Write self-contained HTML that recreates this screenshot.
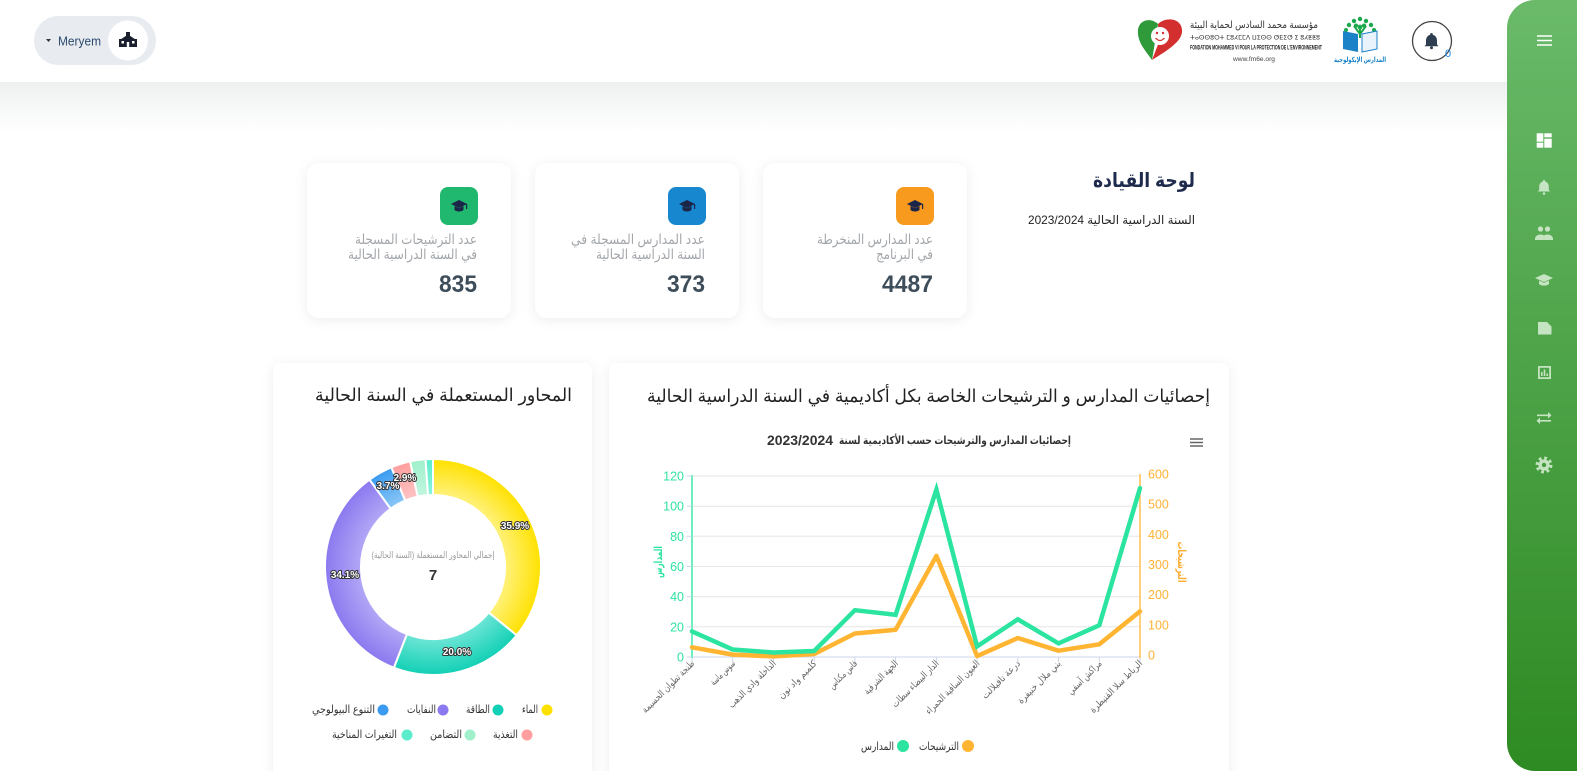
<!DOCTYPE html>
<html><head><meta charset="utf-8"><style>
html,body{margin:0;padding:0;background:#fff;width:1577px;height:771px;overflow:hidden}
svg{display:block}
</style></head><body>
<svg width="1577" height="771" viewBox="0 0 1577 771" xmlns="http://www.w3.org/2000/svg" font-family="'Liberation Sans','DejaVu Sans',sans-serif">
<defs>
<linearGradient id="band" x1="0" y1="0" x2="0" y2="1"><stop offset="0" stop-color="#eef0f0"/><stop offset="1" stop-color="#ffffff"/></linearGradient>
<linearGradient id="side" x1="0" y1="0" x2="0" y2="1"><stop offset="0" stop-color="#6aba6a"/><stop offset="1" stop-color="#2e8a22"/></linearGradient>
<filter id="sh" x="-10%" y="-10%" width="120%" height="130%"><feDropShadow dx="0" dy="2" stdDeviation="6" flood-color="#000" flood-opacity="0.07"/></filter>
<radialGradient id="gY" gradientUnits="userSpaceOnUse" cx="433" cy="567" r="108"><stop offset="0.66" stop-color="#fff27e"/><stop offset="1" stop-color="#ffe100"/></radialGradient>
<radialGradient id="gT" gradientUnits="userSpaceOnUse" cx="433" cy="567" r="108"><stop offset="0.66" stop-color="#6ee6d6"/><stop offset="1" stop-color="#12d0b5"/></radialGradient>
<radialGradient id="gP" gradientUnits="userSpaceOnUse" cx="433" cy="567" r="108"><stop offset="0.66" stop-color="#b2a8f6"/><stop offset="1" stop-color="#8a79ef"/></radialGradient>
<radialGradient id="gB" gradientUnits="userSpaceOnUse" cx="433" cy="567" r="108"><stop offset="0.66" stop-color="#8cc6f7"/><stop offset="1" stop-color="#3a9bf0"/></radialGradient>
<radialGradient id="gK" gradientUnits="userSpaceOnUse" cx="433" cy="567" r="108"><stop offset="0.66" stop-color="#ffc4c4"/><stop offset="1" stop-color="#ff9e9e"/></radialGradient>
<radialGradient id="gL" gradientUnits="userSpaceOnUse" cx="433" cy="567" r="108"><stop offset="0.66" stop-color="#c0f7df"/><stop offset="1" stop-color="#9ff0cb"/></radialGradient>
<radialGradient id="gM" gradientUnits="userSpaceOnUse" cx="433" cy="567" r="108"><stop offset="0.66" stop-color="#8ef3dc"/><stop offset="1" stop-color="#5beccb"/></radialGradient>
</defs>

<!-- header band -->
<rect x="0" y="82" width="1577" height="50" fill="url(#band)"/>

<!-- user pill -->
<rect x="34" y="16" width="122" height="49" rx="24.5" fill="#e8ecf0"/>
<path d="M46,39 L51,39 L48.5,42 Z" fill="#333"/>
<text x="58" y="45.5" font-size="13" fill="#2c4a6e" textLength="43" lengthAdjust="spacingAndGlyphs">Meryem</text>
<circle cx="128" cy="40.5" r="20" fill="#fff"/>
<g fill="#1a1f2e">
<rect x="126" y="32" width="4" height="4"/>
<path d="M120.5,39.5 L128,34.5 L135.5,39.5 Z"/>
<rect x="119" y="39" width="18" height="8"/>
</g>
<g fill="#fff"><rect x="121.5" y="41" width="2.5" height="2.5"/><rect x="132" y="41" width="2.5" height="2.5"/><rect x="126.8" y="42" width="2.4" height="5"/></g>

<!-- FM6E logo -->
<path d="M1152,60 C1145,50 1137,42 1138,30 C1139,20 1150,17 1158,24 L1155,42 Z" fill="#2e9a3a"/>
<path d="M1158,24 C1166,16 1183,18 1182,32 C1181,42 1168,50 1152,60 L1159,42 Z" fill="#d32f2f"/>
<circle cx="1160" cy="36" r="9" fill="#fff"/>
<circle cx="1157" cy="33" r="1.2" fill="#d32f2f"/><circle cx="1163" cy="33" r="1.2" fill="#d32f2f"/>
<path d="M1155.5,38 Q1160,43 1164.5,38" stroke="#d32f2f" stroke-width="1.3" fill="none"/>
<text x="1318" y="28" font-size="10" fill="#333" text-anchor="end" textLength="128" lengthAdjust="spacingAndGlyphs">مؤسسة محمد السادس لحماية البيئة</text>
<text x="1190" y="39.5" font-size="6" fill="#333" textLength="130" lengthAdjust="spacingAndGlyphs">ⵜⴰⵙⵙⵓⵔⵜ ⵎⵓⵃⵎⵎⴷ ⵡⵉⵙⵙ ⵚⴹⵉⵚ ⵉ ⵓⵃⵟⵟⵓ</text>
<text x="1190" y="49.5" font-size="6" font-weight="bold" fill="#222" textLength="132" lengthAdjust="spacingAndGlyphs">FONDATION MOHAMMED VI POUR LA PROTECTION DE L'ENVIRONNEMENT</text>
<text x="1233" y="61" font-size="6.5" fill="#444" textLength="42" lengthAdjust="spacingAndGlyphs">www.fm6e.org</text>

<!-- eco schools logo -->
<g fill="#1aa84a">
<circle cx="1360" cy="19" r="2.2"/><circle cx="1354" cy="21" r="2.2"/><circle cx="1366" cy="21" r="2.2"/>
<circle cx="1349" cy="25" r="2.2"/><circle cx="1371" cy="25" r="2.2"/><circle cx="1356" cy="25.5" r="2"/><circle cx="1364" cy="25.5" r="2"/>
<circle cx="1346" cy="30" r="2"/><circle cx="1374" cy="30" r="2"/><circle cx="1360" cy="27" r="2.4"/>
</g>
<path d="M1360,29 L1360,38 M1354,26 L1360,34 M1366,26 L1360,34" stroke="#1aa84a" stroke-width="2" fill="none"/>
<path d="M1343,31 L1358,34 L1358,52 L1343,49 Z" fill="#1b82c8"/>
<path d="M1362,34 L1377,31 L1377,49 L1362,52 Z" fill="#e8f3fb" stroke="#1b82c8" stroke-width="1"/>
<text x="1360" y="62" font-size="7" font-weight="bold" fill="#1b82c8" text-anchor="middle" textLength="52" lengthAdjust="spacingAndGlyphs">المدارس الإيكولوجية</text>

<!-- bell -->
<circle cx="1432" cy="41" r="19.5" fill="#fff" stroke="#444" stroke-width="1.3"/>
<path d="M1431.5,33 c-0.8,0 -1.3,0.6 -1.3,1.3 v0.5 c-2.6,0.7 -4.2,3 -4.2,5.7 v4 l-1.5,1.8 h14 l-1.5,-1.8 v-4 c0,-2.7 -1.6,-5 -4.2,-5.7 v-0.5 c0,-0.7 -0.5,-1.3 -1.3,-1.3z" fill="#2c3e50"/>
<circle cx="1431.5" cy="47.8" r="1.5" fill="#2c3e50"/>
<text x="1445" y="57" font-size="11" fill="#1e88e5">0</text>

<!-- sidebar -->
<path d="M1535,0 H1577 V771 H1535 A28,28 0 0 1 1507,743 V28 A28,28 0 0 1 1535,0 Z" fill="url(#side)"/>
<path d="M1537,36 H1552 M1537,40.5 H1552 M1537,45 H1552" stroke="#fff" stroke-width="1.5"/>
<g fill="#fff">
<rect x="1536.7" y="133.3" width="6.6" height="8.4"/><rect x="1544.3" y="133.3" width="7.4" height="4"/>
<rect x="1536.7" y="142.7" width="6.6" height="5"/><rect x="1544.3" y="138.7" width="7.4" height="9"/>
</g>
<g fill="#d2ebcf" opacity="0.9">
<path d="M1544,180 c-.7,0 -1.1,.5 -1.1,1.1 v.4 c-2.3,.6 -3.7,2.7 -3.7,5 v3.5 l-1.4,1.5 h12.4 l-1.4,-1.5 v-3.5 c0,-2.3 -1.4,-4.4 -3.7,-5 v-.4 c0,-.6 -.4,-1.1 -1.1,-1.1z"/>
<circle cx="1544" cy="193.5" r="1.3"/>
<circle cx="1540.5" cy="229" r="2.6"/><circle cx="1547.5" cy="229" r="2.6"/>
<path d="M1535,239 c0,-3 3,-4.5 5.5,-4.5 s5.5,1.5 5.5,4.5 v1 h-11z"/>
<path d="M1542,239 c0,-3 3,-4.5 5.5,-4.5 s5.5,1.5 5.5,4.5 v1 h-11z"/>
<path d="M1535,278 L1544,274 L1553,278 L1544,282 Z"/>
<path d="M1539,280.5 v3.5 c2,2.2 8,2.2 10,0 v-3.5 l-5,2.3 z"/>
<path d="M1538,322 h9 l4.5,4.5 v8 h-13.5z"/>
<path d="M1538,366 h13 v13 h-13z M1539.8,367.8 v9.4 h9.4 v-9.4z" fill-rule="evenodd"/>
<rect x="1541" y="372" width="1.6" height="4"/><rect x="1543.7" y="369.5" width="1.6" height="6.5"/><rect x="1546.4" y="373.5" width="1.6" height="2.5"/>
<path d="M1537,414.5 h11 v-2.5 l3.5,3.3 l-3.5,3.3 v-2.5 h-11z"/>
<path d="M1551,420 h-11 v-2.5 l-3.5,3.3 l3.5,3.3 v-2.5 h11z"/>
<circle cx="1544" cy="465" r="5.6"/>
<circle cx="1544" cy="465" r="7" fill="none" stroke="#d2ebcf" stroke-width="3" stroke-dasharray="2.75 2.75"/>
</g>
<circle cx="1544" cy="465" r="2.2" fill="#459d3e"/>

<!-- page title -->
<text x="1195" y="187" font-size="20" font-weight="bold" fill="#1e2b4d" text-anchor="end" textLength="102" lengthAdjust="spacingAndGlyphs">لوحة القيادة</text>
<text x="1111.5" y="224" font-size="12" fill="#222" text-anchor="middle" direction="rtl" unicode-bidi="embed" textLength="167" lengthAdjust="spacingAndGlyphs">السنة الدراسية الحالية 2023/2024</text>

<!-- stat cards -->
<g filter="url(#sh)" fill="#fff">
<rect x="307" y="163" width="204" height="155" rx="12"/>
<rect x="535" y="163" width="204" height="155" rx="12"/>
<rect x="763" y="163" width="204" height="155" rx="12"/>
</g>
<rect x="440" y="187" width="38" height="38" rx="8" fill="#20b76e"/>
<rect x="668" y="187" width="38" height="38" rx="8" fill="#1787d0"/>
<rect x="896" y="187" width="38" height="38" rx="8" fill="#f79a1e"/>
<g fill="#1b2548">
<path d="M451,204 L459,200 L467,204 L459,208 Z"/><path d="M454.5,206 v4 c2,2 7,2 9,0 v-4 l-4.5,2.2z"/><rect x="466" y="204" width="1.2" height="5"/>
<path d="M679,204 L687,200 L695,204 L687,208 Z"/><path d="M682.5,206 v4 c2,2 7,2 9,0 v-4 l-4.5,2.2z"/><rect x="694" y="204" width="1.2" height="5"/>
<path d="M907,204 L915,200 L923,204 L915,208 Z"/><path d="M910.5,206 v4 c2,2 7,2 9,0 v-4 l-4.5,2.2z"/><rect x="922" y="204" width="1.2" height="5"/>
</g>
<g font-size="14" fill="#a3a7ab" text-anchor="end">
<text x="477" y="244" textLength="122" lengthAdjust="spacingAndGlyphs">عدد الترشيحات المسجلة</text>
<text x="477" y="259" textLength="129" lengthAdjust="spacingAndGlyphs">في السنة الدراسية الحالية</text>
<text x="705" y="244" textLength="134" lengthAdjust="spacingAndGlyphs">عدد المدارس المسجلة في</text>
<text x="705" y="259" textLength="109" lengthAdjust="spacingAndGlyphs">السنة الدراسية الحالية</text>
<text x="933" y="244" textLength="116" lengthAdjust="spacingAndGlyphs">عدد المدارس المنخرطة</text>
<text x="933" y="259" textLength="57" lengthAdjust="spacingAndGlyphs">في البرنامج</text>
</g>
<g font-size="24" font-weight="bold" fill="#3d4d5a" text-anchor="end">
<text x="477" y="292" textLength="38" lengthAdjust="spacingAndGlyphs">835</text>
<text x="705" y="292" textLength="38" lengthAdjust="spacingAndGlyphs">373</text>
<text x="933" y="292" textLength="51" lengthAdjust="spacingAndGlyphs">4487</text>
</g>

<!-- chart cards -->
<g filter="url(#sh)" fill="#fff">
<rect x="273" y="363" width="319" height="430" rx="8"/>
<rect x="609" y="363" width="620" height="430" rx="8"/>
</g>
<text x="572" y="401" font-size="18" fill="#222" text-anchor="end" textLength="257" lengthAdjust="spacingAndGlyphs">المحاور المستعملة في السنة الحالية</text>
<text x="1210" y="402" font-size="18" fill="#222" text-anchor="end" textLength="563" lengthAdjust="spacingAndGlyphs">إحصائيات المدارس و الترشيحات الخاصة بكل أكاديمية في السنة الدراسية الحالية</text>

<!-- donut -->
<g stroke="#fff" stroke-width="2" stroke-linejoin="round">
<path d="M433,459 A108,108 0 0 1 516.64,635.33 L488.76,612.55 A72,72 0 0 0 433,495 Z" fill="url(#gY)"/>
<path d="M516.64,635.33 A108,108 0 0 1 393.88,667.67 L406.92,634.11 A72,72 0 0 0 488.76,612.55 Z" fill="url(#gT)"/>
<path d="M393.88,667.67 A108,108 0 0 1 369.52,479.63 L390.68,508.75 A72,72 0 0 0 406.92,634.11 Z" fill="url(#gP)"/>
<path d="M369.52,479.63 A108,108 0 0 1 391.36,467.35 L405.24,500.57 A72,72 0 0 0 390.68,508.75 Z" fill="url(#gB)"/>
<path d="M391.36,467.35 A108,108 0 0 1 410.10,461.45 L417.74,496.63 A72,72 0 0 0 405.24,500.57 Z" fill="url(#gK)"/>
<path d="M410.10,461.45 A108,108 0 0 1 425.54,459.26 L428.02,495.17 A72,72 0 0 0 417.74,496.63 Z" fill="url(#gL)"/>
<path d="M425.54,459.26 A108,108 0 0 1 433,459 L433,495 A72,72 0 0 0 428.02,495.17 Z" fill="url(#gM)"/>
</g>
<g font-size="10" font-weight="bold" fill="#fff" stroke="#333" stroke-width="2" paint-order="stroke" stroke-linejoin="round" text-anchor="middle">
<text x="515" y="529">35.9%</text>
<text x="457" y="655">20.0%</text>
<text x="345" y="578">34.1%</text>
<text x="388" y="489">3.7%</text>
<text x="405" y="481">2.9%</text>
</g>
<text x="433" y="558" font-size="9" fill="#999" text-anchor="middle" direction="rtl" unicode-bidi="embed" textLength="123" lengthAdjust="spacingAndGlyphs">إجمالي المحاور المستعملة (السنة الحالية)</text>
<text x="433" y="580" font-size="15" font-weight="bold" fill="#333" text-anchor="middle">7</text>

<!-- donut legend -->
<g>
<circle cx="547" cy="710" r="5.5" fill="#ffe100"/>
<circle cx="498" cy="710" r="5.5" fill="#12d0b5"/>
<circle cx="443" cy="710" r="5.5" fill="#8a79ef"/>
<circle cx="383" cy="710" r="5.5" fill="#3a9bf0"/>
<circle cx="527" cy="735" r="5.5" fill="#ff9e9e"/>
<circle cx="470" cy="735" r="5.5" fill="#9ff0cb"/>
<circle cx="407" cy="735" r="5.5" fill="#5beccb"/>
</g>
<g font-size="11" fill="#333" text-anchor="end">
<text x="538" y="713" textLength="16" lengthAdjust="spacingAndGlyphs">الماء</text>
<text x="490" y="713" textLength="24" lengthAdjust="spacingAndGlyphs">الطاقة</text>
<text x="436" y="713" textLength="29" lengthAdjust="spacingAndGlyphs">النفايات</text>
<text x="375" y="713" textLength="63" lengthAdjust="spacingAndGlyphs">التنوع البيولوجي</text>
<text x="518" y="738" textLength="25" lengthAdjust="spacingAndGlyphs">التغذية</text>
<text x="462" y="738" textLength="32" lengthAdjust="spacingAndGlyphs">التضامن</text>
<text x="397" y="738" textLength="65" lengthAdjust="spacingAndGlyphs">التغيرات المناخية</text>
</g>

<!-- line chart -->
<text x="1071" y="444" font-size="11" font-weight="bold" fill="#333" text-anchor="end" textLength="232" lengthAdjust="spacingAndGlyphs">إحصائيات المدارس والترشيحات حسب الأكاديمية لسنة</text>
<text x="767" y="445" font-size="14" font-weight="bold" fill="#333" textLength="66" lengthAdjust="spacingAndGlyphs">2023/2024</text>
<path d="M1190,439 H1203 M1190,442.5 H1203 M1190,446 H1203" stroke="#666" stroke-width="1.5"/>

<g stroke="#e6e6e6" stroke-width="1">
<line x1="692" y1="476" x2="1140" y2="476"/>
<line x1="692" y1="506.2" x2="1140" y2="506.2"/>
<line x1="692" y1="536.3" x2="1140" y2="536.3"/>
<line x1="692" y1="566.5" x2="1140" y2="566.5"/>
<line x1="692" y1="596.7" x2="1140" y2="596.7"/>
<line x1="692" y1="626.8" x2="1140" y2="626.8"/>
</g>
<line x1="692" y1="657" x2="1140" y2="657" stroke="#ccd6eb" stroke-width="1"/>
<g stroke="#ccd6eb" stroke-width="1">
<line x1="692" y1="657" x2="692" y2="662"/><line x1="732.7" y1="657" x2="732.7" y2="662"/><line x1="773.5" y1="657" x2="773.5" y2="662"/>
<line x1="814.2" y1="657" x2="814.2" y2="662"/><line x1="854.9" y1="657" x2="854.9" y2="662"/><line x1="895.6" y1="657" x2="895.6" y2="662"/>
<line x1="936.4" y1="657" x2="936.4" y2="662"/><line x1="977.1" y1="657" x2="977.1" y2="662"/><line x1="1017.8" y1="657" x2="1017.8" y2="662"/>
<line x1="1058.5" y1="657" x2="1058.5" y2="662"/><line x1="1099.3" y1="657" x2="1099.3" y2="662"/><line x1="1140" y1="657" x2="1140" y2="662"/>
</g>
<line x1="692" y1="475" x2="692" y2="658" stroke="#3ee9aa" stroke-width="1.5"/>
<line x1="1140" y1="474" x2="1140" y2="658" stroke="#ffc04d" stroke-width="1.5"/>
<g stroke="#ccd6eb" stroke-width="1">
<line x1="687" y1="476" x2="692" y2="476"/><line x1="687" y1="506.2" x2="692" y2="506.2"/><line x1="687" y1="536.3" x2="692" y2="536.3"/><line x1="687" y1="566.5" x2="692" y2="566.5"/><line x1="687" y1="596.7" x2="692" y2="596.7"/><line x1="687" y1="626.8" x2="692" y2="626.8"/><line x1="687" y1="657" x2="692" y2="657"/>
</g>
<g font-size="12.5" fill="#30e3a0" text-anchor="end">
<text x="684" y="480.5">120</text><text x="684" y="510.7">100</text><text x="684" y="540.8">80</text>
<text x="684" y="571">60</text><text x="684" y="601.2">40</text><text x="684" y="631.3">20</text><text x="684" y="661.5">0</text>
</g>
<g font-size="12.5" fill="#ffb136">
<text x="1148" y="478.5">600</text><text x="1148" y="508.7">500</text><text x="1148" y="538.8">400</text>
<text x="1148" y="569">300</text><text x="1148" y="599.2">200</text><text x="1148" y="629.3">100</text><text x="1148" y="659.5">0</text>
</g>
<text transform="translate(662,562) rotate(-90)" font-size="11" font-weight="bold" fill="#2be49f" text-anchor="middle" textLength="32" lengthAdjust="spacingAndGlyphs">المدارس</text>
<text transform="translate(1178,562) rotate(90)" font-size="11" font-weight="bold" fill="#ffac2e" text-anchor="middle" textLength="41" lengthAdjust="spacingAndGlyphs">الترشيحات</text>

<polyline fill="none" stroke="#ffb532" stroke-width="4.5" stroke-linejoin="round" stroke-linecap="round" points="692,647.3 732.7,654.6 773.5,656.4 814.2,654 854.9,633.5 895.6,629.8 936.4,555.9 977.1,656.1 1017.8,638 1058.5,650.7 1099.3,644.3 1140,611.4"/>
<polyline fill="none" stroke="#2be49f" stroke-width="4.5" stroke-linejoin="miter" stroke-linecap="round" points="692,631.4 732.7,649.5 773.5,652.5 814.2,651 854.9,610.2 895.6,614.8 936.4,489.6 977.1,646.4 1017.8,619.3 1058.5,643.4 1099.3,625.3 1140,488.1"/>

<g font-size="9.5" fill="#666" text-anchor="end">
<text transform="translate(695,664) rotate(-45)" textLength="70" lengthAdjust="spacingAndGlyphs">طنجة تطوان الحسيمة</text>
<text transform="translate(735.7,664) rotate(-45)" textLength="31" lengthAdjust="spacingAndGlyphs">سوس ماسة</text>
<text transform="translate(776.5,664) rotate(-45)" textLength="63" lengthAdjust="spacingAndGlyphs">الداخلة وادي الذهب</text>
<text transform="translate(817.2,664) rotate(-45)" textLength="50" lengthAdjust="spacingAndGlyphs">كلميم واد نون</text>
<text transform="translate(857.9,664) rotate(-45)" textLength="36" lengthAdjust="spacingAndGlyphs">فاس مكناس</text>
<text transform="translate(898.6,664) rotate(-45)" textLength="44" lengthAdjust="spacingAndGlyphs">الجهة الشرقية</text>
<text transform="translate(939.4,664) rotate(-45)" textLength="62" lengthAdjust="spacingAndGlyphs">الدار البيضاء سطات</text>
<text transform="translate(980.1,664) rotate(-45)" textLength="72" lengthAdjust="spacingAndGlyphs">العيون الساقية الحمراء</text>
<text transform="translate(1020.8,664) rotate(-45)" textLength="50" lengthAdjust="spacingAndGlyphs">درعة تافيلالت</text>
<text transform="translate(1061.5,664) rotate(-45)" textLength="57" lengthAdjust="spacingAndGlyphs">بني ملال خنيفرة</text>
<text transform="translate(1102.3,664) rotate(-45)" textLength="44" lengthAdjust="spacingAndGlyphs">مراكش آسفي</text>
<text transform="translate(1143,664) rotate(-45)" textLength="70" lengthAdjust="spacingAndGlyphs">الرباط سلا القنيطرة</text>
</g>

<circle cx="968" cy="746" r="6" fill="#ffb532"/>
<circle cx="903" cy="746" r="6" fill="#2be49f"/>
<g font-size="11" fill="#333" text-anchor="end">
<text x="959" y="750" textLength="40" lengthAdjust="spacingAndGlyphs">الترشيحات</text>
<text x="894" y="750" textLength="33" lengthAdjust="spacingAndGlyphs">المدارس</text>
</g>
</svg>
</body></html>
